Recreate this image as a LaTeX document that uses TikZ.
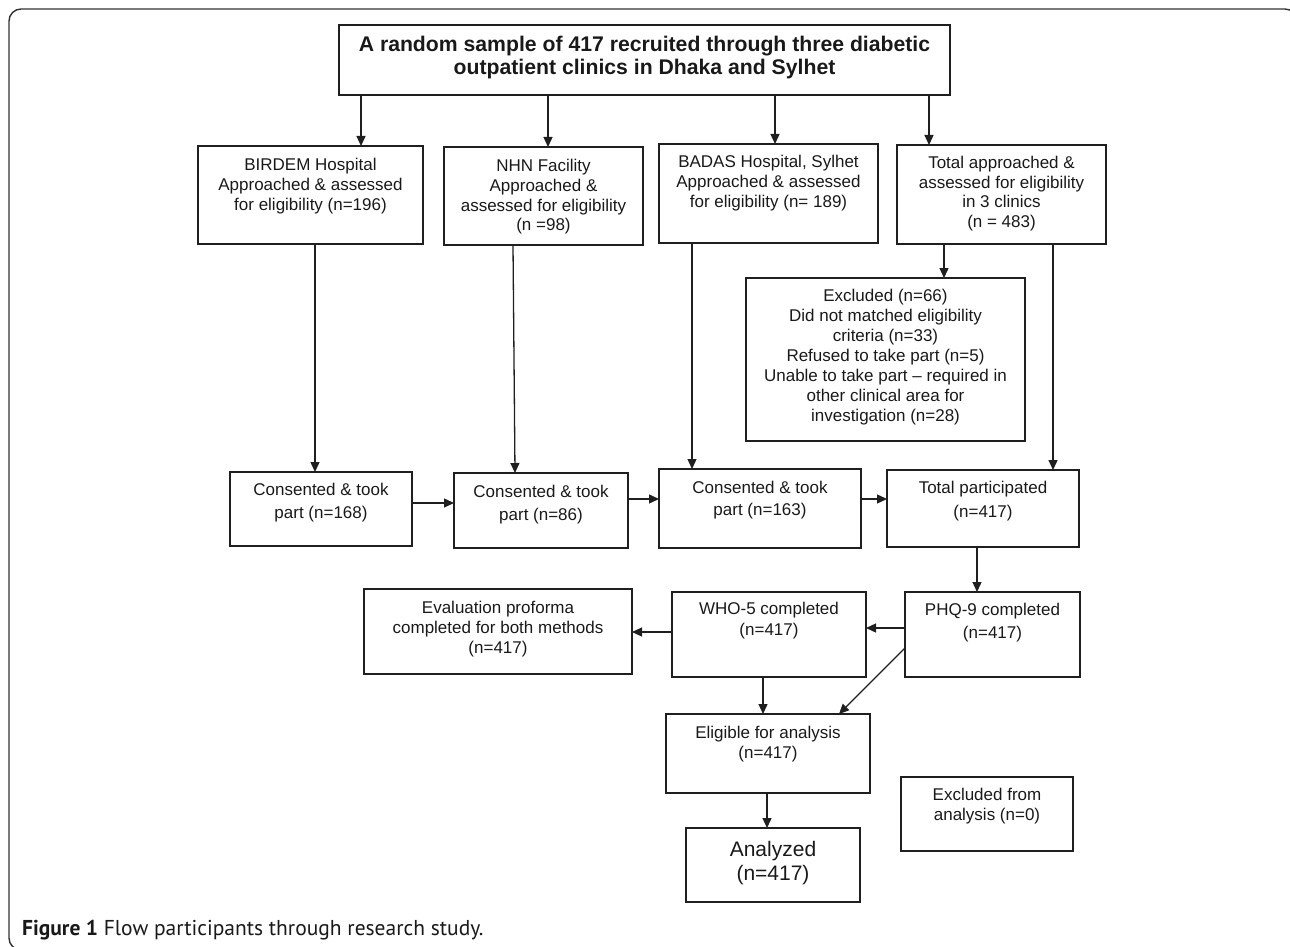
\documentclass[tikz,border=0pt]{standalone}
\usepackage{fontspec}
\setmainfont{Liberation Sans}
\newfontfamily\capfont{PT Sans}
\usetikzlibrary{arrows.meta}
\newcommand\pbox[5]{\node[bx, minimum width={#4-#2}, minimum height={#5-#3}] (#1) at ({(#2+#4)/2},{(#3+#5)/2}) {};}
\begin{document}
\begin{tikzpicture}[x=1pt,y=-1pt,
  bx/.style={draw=black!88, line width=1.3pt, inner sep=0pt, outer sep=0pt, rectangle},
  tx/.style={inner sep=0pt, outer sep=0pt, align=center, anchor=north, text=black!90},
  bt/.style={tx, font=\fontsize{17}{19.7}\selectfont},
  arr/.style={draw=black!88, line width=1.3pt, -{Triangle[length=10pt,width=9pt]}}]
\useasboundingbox (0,0) rectangle (1290,947);
\begin{scope}
\clip (0,0) rectangle (1290,947);
\draw[line width=1.4pt, black!80, rounded corners=12pt] (9,9) rectangle (1297,950);
\end{scope}
% boxes
\pbox{top}{339}{25}{950}{95}
\pbox{bird}{198}{146}{423}{244}
\pbox{nhn}{444}{147}{643}{245}
\pbox{badas}{659}{144}{878}{243}
\pbox{tapp}{897}{145}{1106}{244}
\pbox{excl}{746}{278}{1025}{441}
\pbox{cA}{230}{472}{412}{546}
\pbox{cB}{454}{473}{628}{548}
\pbox{cC}{659}{469}{861}{548}
\pbox{tpart}{887}{470}{1079}{547}
\pbox{phq}{905}{592}{1080}{677}
\pbox{who}{672}{592}{866}{677}
\pbox{eval}{364}{589}{632}{674}
\pbox{elig}{666}{714}{870}{793}
\pbox{exa}{901}{777}{1073}{851}
\pbox{anal}{686}{828}{860}{902}
% texts
\node[tx, font=\bfseries\fontsize{21.2}{22.5}\selectfont] (ttop) at (644.5,36.5) {A random sample of 417 recruited through three diabetic\\outpatient clinics in Dhaka and Sylhet};
\node[bt] (tbird) at (310.5,158.5) {BIRDEM Hospital\\Approached \& assessed\\for eligibility (n=196)};
\node[bt] (tnhn) at (543.5,159.5) {NHN Facility\\Approached \&\\assessed for eligibility\\(n =98)};
\node[bt] (tbadas) at (768.5,155.5) {BADAS Hospital, Sylhet\\Approached \& assessed\\for eligibility (n= 189)};
\node[bt] (ttapp) at (1001.5,156) {Total approached \&\\assessed for eligibility\\in 3 clinics\\(n = 483)};
\node[bt, font=\fontsize{17}{20}\selectfont] (texcl) at (885.5,289) {Excluded (n=66)\\Did not matched eligibility\\criteria (n=33)\\Refused to take part (n=5)\\Unable to take part -- required in\\other clinical area for\\investigation (n=28)};
\node[bt, font=\fontsize{17}{23}\selectfont] (tcA) at (321,483) {Consented \& took\\part (n=168)};
\node[bt, font=\fontsize{17}{23}\selectfont] (tcB) at (541,485) {Consented \& took\\part (n=86)};
\node[bt, font=\fontsize{17}{22}\selectfont] (tcC) at (760,481) {Consented \& took\\part (n=163)};
\node[bt, font=\fontsize{17}{24}\selectfont] (ttpart) at (983,481) {Total participated\\(n=417)};
\node[bt, font=\fontsize{17}{23}\selectfont] (tphq) at (992.5,603) {PHQ-9 completed\\(n=417)};
\node[bt, font=\fontsize{17}{21}\selectfont] (twho) at (769,602) {WHO-5 completed\\(n=417)};
\node[bt, font=\fontsize{17}{20}\selectfont] (teval) at (498,601) {Evaluation proforma\\completed for both methods\\(n=417)};
\node[bt, font=\fontsize{17}{20}\selectfont] (telig) at (768,726) {Eligible for analysis\\(n=417)};
\node[bt, font=\fontsize{17}{20}\selectfont] (texa) at (987,788) {Excluded from\\analysis (n=0)};
\node[bt, font=\fontsize{21}{24}\selectfont] (tanal) at (773,841) {Analyzed\\(n=417)};
% connectors
\draw[arr] (361,0 |- top.south) -- (361,0 |- bird.north);
\draw[arr] (548,0 |- top.south) -- (548,0 |- nhn.north);
\draw[arr] (775,0 |- top.south) -- (775,0 |- badas.north);
\draw[arr] (929,0 |- top.south) -- (929,0 |- tapp.north);
\draw[arr] (315,0 |- bird.south) -- (315,0 |- cA.north);
\draw[arr] (513,0 |- nhn.south) -- (515,0 |- cB.north);
\draw[arr] (692,0 |- badas.south) -- (692,0 |- cC.north);
\draw[arr] (1053,0 |- tapp.south) -- (1053,0 |- tpart.north);
\draw[arr] (944,0 |- tapp.south) -- (944,0 |- excl.north);
\draw[arr] (cA.east |- 0,503) -- (cB.west |- 0,503);
\draw[arr] (cB.east |- 0,499) -- (cC.west |- 0,499);
\draw[arr] (cC.east |- 0,499) -- (tpart.west |- 0,499);
\draw[arr] (977,0 |- tpart.south) -- (977,0 |- phq.north);
\draw[arr] (phq.west |- 0,628) -- (who.east |- 0,628);
\draw[arr] (who.west |- 0,632) -- (eval.east |- 0,632);
\draw[arr] (phq.west |- 0,648) -- (839,0 |- elig.north);
\draw[arr] (763,0 |- who.south) -- (763,0 |- elig.north);
\draw[arr] (767,0 |- elig.south) -- (767,0 |- anal.north);
% caption
\node[anchor=base west, inner sep=0pt, text=black!90] (cap) at (22,935) {\capfont\fontsize{21.5}{25}\selectfont\textbf{Figure 1} Flow participants through research study.};
\end{tikzpicture}
\end{document}
